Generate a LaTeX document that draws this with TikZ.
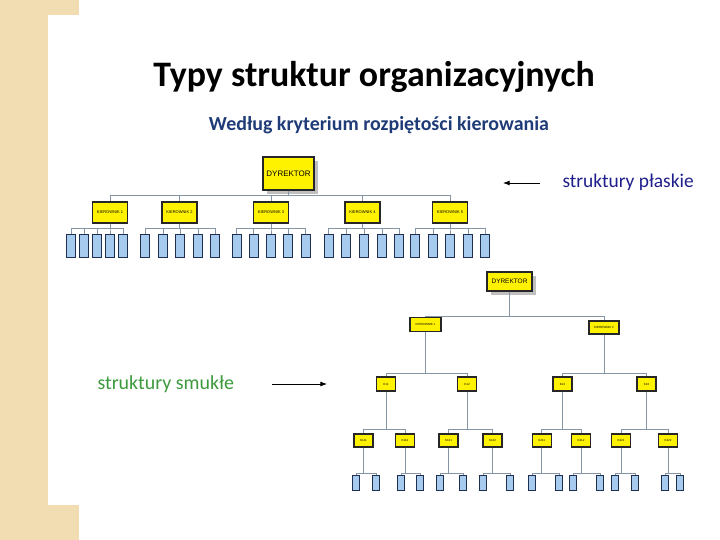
\documentclass[tikz,border=0pt]{standalone}
\usepackage{fontspec}
\setmainfont{Carlito}
\newfontfamily\boxfont{Liberation Sans}
\usetikzlibrary{arrows.meta,shadows}

\definecolor{beige}{HTML}{F2DDB2}
\definecolor{leafblue}{HTML}{A6CBEF}
\definecolor{leafline}{HTML}{1F2F4F}
\definecolor{linkgray}{HTML}{8595A6}
\definecolor{subblue}{HTML}{1F3C78}
\definecolor{flatblue}{HTML}{1E1E8C}
\definecolor{tallgreen}{HTML}{3C9A3C}

\tikzset{
  boss/.style={draw=black!85, line width=1.3bp, fill=yellow, inner sep=0pt,
    font=\boxfont\fontsize{8}{8}\selectfont,
    drop shadow={shadow xshift=4bp, shadow yshift=-4bp, fill=black!25, opacity=1}},
  mgr/.style={draw=black!85, line width=1.2bp, fill=yellow, inner sep=0pt,
    font=\boxfont\fontsize{4}{4}\selectfont},
  leaf/.style={draw=leafline, line width=0.9bp, fill=leafblue, inner sep=0pt},
  link/.style={draw=linkgray, line width=1bp},
}

\begin{document}
\begin{tikzpicture}[x=1bp, y=-1bp, >=Latex]
% page and border
\fill[beige] (0,0) rectangle (720,540);
\fill[white] (48,15) rectangle (720,505);
\fill[white] (79,0) rectangle (720,540);
\useasboundingbox (0,0) rectangle (720,540);

% titles
\node[font=\bfseries\fontsize{36}{36}\selectfont] (title) at (374,77) {Typy struktur organizacyjnych};
\node[font=\bfseries\fontsize{20}{20}\selectfont, text=subblue] (subtitle) at (379,125) {Według kryterium rozpiętości kierowania};

% flat structure
\node[boss, minimum width=51bp, minimum height=33bp] (dyr) at (288.5,173.5) {DYREKTOR};
\coordinate (flatbar) at (0,196);
\foreach \x [count=\i] in {110,179.5,271,362.5,450}
  \node[mgr, minimum width=35bp, minimum height=21bp] (k\i) at (\x,212.5) {KIEROWNIK \i};
\foreach \i in {1,...,5}
  \draw[link] (dyr.south) -- (dyr.south |- flatbar) -| (k\i.north);
\coordinate (leafbar) at (0,229);
\foreach \x [count=\i] in
    {71,84,97,110,123, 145,163,180,198,215, 236.5,253.5,271,288,305.5,
     328.5,346,364,382,399, 415,433,450,468,485} {
  \pgfmathtruncatemacro{\g}{(\i-1)/5+1}
  \node[leaf, minimum width=9bp, minimum height=23bp] (p\i) at (\x,245.5) {};
  \draw[link] (k\g.south) -- (k\g.south |- leafbar) -| (p\i.north);
}

% flat label
\node[anchor=west, text=flatblue, font=\fontsize{19.5}{19.5}\selectfont] (flatlbl) at (559,182) {struktury płaskie};
\coordinate (flatarrow) at (503,183);
\draw[->, line width=0.8bp] ([xshift=37bp]flatarrow) -- (flatarrow);

% tall structure
\node[boss, minimum width=45bp, minimum height=19bp, font=\boxfont\fontsize{6.5}{6.5}\selectfont] (tdyr) at (509.5,281.5) {DYREKTOR};
\node[mgr, minimum width=31bp, minimum height=14bp, font=\boxfont\fontsize{3}{3}\selectfont] (t1) at (425.5,324.5) {KIEROWNIK 1};
\node[mgr, minimum width=30bp, minimum height=13bp, font=\boxfont\fontsize{3}{3}\selectfont] (t2) at (604,327.5) {KIEROWNIK 2};
\coordinate (tbar1) at (0,316);
\foreach \n in {1,2}
  \draw[link] (tdyr.south) -- (tdyr.south |- tbar1) -| (t\n.north);

\coordinate (tbar2) at (0,373);
\foreach \x/\n/\p in {386/11/1, 467/12/1, 562.5/21/2, 646.5/22/2} {
  \node[mgr, minimum width=19bp, minimum height=14bp, font=\boxfont\fontsize{3}{3}\selectfont] (t\n) at (\x,384) {K\n};
  \draw[link] (t\p.south) -- (t\p.south |- tbar2) -| (t\n.north);
}

\coordinate (tbar3) at (0,429);
\foreach \x/\n/\p in {363.5/111/11, 405/112/11, 448.5/121/12, 492.5/122/12,
                      541.7/211/21, 581/212/21, 621/221/22, 668/222/22} {
  \node[mgr, minimum width=19bp, minimum height=13bp, font=\boxfont\fontsize{3}{3}\selectfont] (t\n) at (\x,440.5) {K\n};
  \draw[link] (t\p.south) -- (t\p.south |- tbar3) -| (t\n.north);
}

\coordinate (tbar4) at (0,473);
\foreach \x/\n/\p in {356/a/111, 376/b/111, 401/c/112, 420/d/112,
                      440/e/121, 463/f/121, 483/g/122, 510/h/122,
                      532/i/211, 559/j/211, 573/k/212, 600/l/212,
                      615/m/221, 635/n/221, 665/o/222, 680/p/222} {
  \node[leaf, minimum width=7bp, minimum height=15bp] (w\n) at (\x,483) {};
  \draw[link, line width=0.7bp] (t\p.south) -- (t\p.south |- tbar4) -| (w\n.north);
}

% tall label
\node[anchor=west, text=tallgreen, font=\fontsize{20}{20}\selectfont] (smlbl) at (94,384) {struktury smukłe};
\coordinate (smarrow) at (327,384);
\draw[->, line width=0.8bp] ([xshift=-55bp]smarrow) -- (smarrow);
\end{tikzpicture}
\end{document}
